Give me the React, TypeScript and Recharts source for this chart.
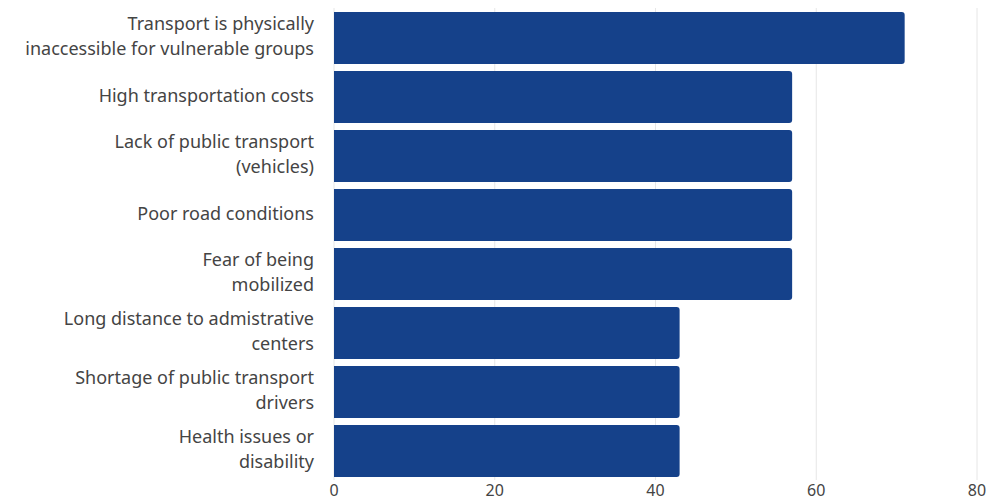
import { BarChart, Bar, XAxis, YAxis, CartesianGrid } from 'recharts';

// Barriers to transport access (% of respondents)
const categories = [
    'Transport is physically\ninaccessible for vulnerable groups',
    'High transportation costs',
    'Lack of public transport\n(vehicles)',
    'Poor road conditions',
    'Fear of being\nmobilized',
    'Long distance to admistrative\ncenters',
    'Shortage of public transport\ndrivers',
    'Health issues or\ndisability',
];
const shares = [71, 57, 57, 57, 57, 43, 43, 43];
const xTicks = [0, 20, 40, 60, 80];

const data = categories.map((name, i) => ({ name, value: shares[i] }));

const FONT = '"Source Sans Pro", "Noto Sans", sans-serif';

function CategoryTick({ x, y, payload }: any) {
    const lines = String(payload.value).split('\n');
    const lineH = 25;
    const start = -((lines.length - 1) * lineH) / 2 - 1;
    return (
        <text x={x} y={y} textAnchor="end" fill="#444" fontSize={18} fontFamily={FONT}>
            {lines.map((ln, i) => (
                <tspan key={i} x={x} y={y + start + i * lineH} dy="0.35em">
                    {ln}
                </tspan>
            ))}
        </text>
    );
}

export default function App() {
    return (
        <div style={{ position: 'absolute', left: 0, top: 0, width: 1006, height: 500, background: '#fff' }}>
            <BarChart
                width={1006}
                height={500}
                data={data}
                layout="vertical"
                margin={{ top: 8, right: 29, left: 0, bottom: 0 }}
            >
                <CartesianGrid horizontal={false} stroke="#e6e6e6" />
                <XAxis
                    type="number"
                    domain={[0, 80]}
                    ticks={xTicks}
                    axisLine={false}
                    tickLine={false}
                    tickSize={0}
                    tickMargin={5}
                    height={20}
                    tick={{ fill: '#444', fontSize: 16, fontFamily: FONT }}
                />
                <YAxis
                    type="category"
                    dataKey="name"
                    width={334}
                    axisLine={false}
                    tickLine={false}
                    tickSize={0}
                    tickMargin={20}
                    interval={0}
                    tick={<CategoryTick />}
                />
                <Bar dataKey="value" fill="#15418a" barSize={52} radius={[0, 3, 3, 0]} isAnimationActive={false} />
            </BarChart>
        </div>
    );
}
